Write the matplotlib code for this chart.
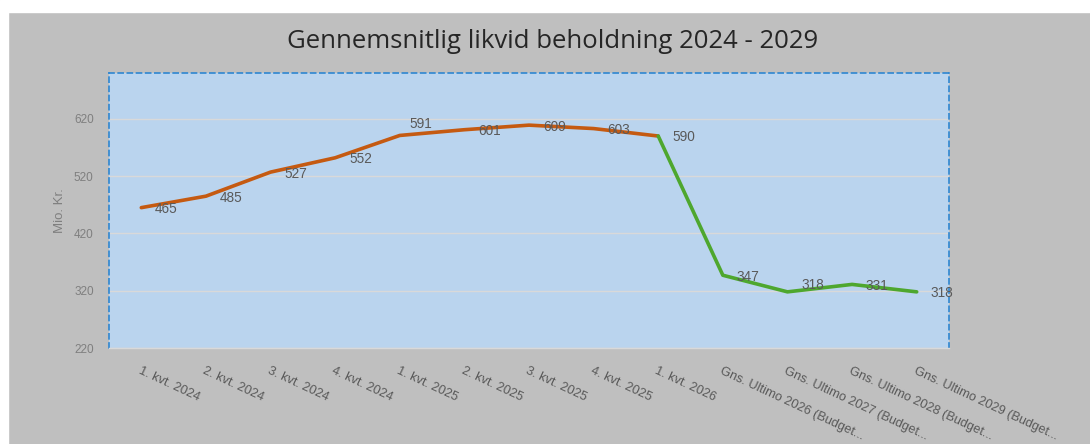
import matplotlib
matplotlib.use("Agg")
import matplotlib.pyplot as plt
from matplotlib.patches import Rectangle

# data
categories = ["1. kvt. 2024", "2. kvt. 2024", "3. kvt. 2024", "4. kvt. 2024",
              "1. kvt. 2025", "2. kvt. 2025", "3. kvt. 2025", "4. kvt. 2025",
              "1. kvt. 2026",
              "Gns. Ultimo 2026 (Budget...", "Gns. Ultimo 2027 (Budget...",
              "Gns. Ultimo 2028 (Budget...", "Gns. Ultimo 2029 (Budget..."]
values = [465, 485, 527, 552, 591, 601, 609, 603, 590, 347, 318, 331, 318]
split = 8  # last quarterly point, green budget line starts here
yticks = [220, 320, 420, 520, 620]

W, H = 1090, 444
fig = plt.figure(figsize=(W / 100, H / 100), dpi=100, facecolor="#bfbfbf")
# thin white strips at the left and top edges
fig.patches.append(Rectangle((0, 0), 8 / W, 1, transform=fig.transFigure,
                             color="white", zorder=-5))
fig.patches.append(Rectangle((0, 1 - 12 / H), 1, 12 / H, transform=fig.transFigure,
                             color="white", zorder=-5))

ax = fig.add_axes([109 / W, 1 - 348 / H, (949 - 109) / W, (348 - 73) / H])
ax.set_facecolor("#bad4ee")

x = list(range(len(values)))
ax.plot(x[:split + 1], values[:split + 1], color="#c55a11", lw=2.6,
        solid_capstyle="round", zorder=3)
ax.plot(x[split:], values[split:], color="#4ea72e", lw=2.6,
        solid_capstyle="round", zorder=3)

for i, v in enumerate(values):
    dx, dy = 10, -1
    if i == 4:
        dx, dy = 7, 8
    elif i == 10:
        dy = 5
    ax.annotate(str(v), (i, v), xytext=(dx, dy), textcoords="offset points",
                ha="left", va="center", fontsize=9.8, color="#595959",
                family="Liberation Sans", zorder=4)

ax.set_xlim(-0.5, len(values) - 0.5)
ax.set_ylim(220, 700)
ax.set_yticks(yticks)
ax.set_yticklabels([str(t) for t in yticks], fontsize=8.5, color="#7f7f7f",
                   family="Liberation Sans")
ax.grid(axis="y", color="#d9d9d9", lw=1)
ax.set_axisbelow(True)

ax.set_xticks(x)
ax.set_xticklabels(categories, rotation=-25, ha="left", va="top",
                   rotation_mode="anchor", fontsize=9.2, color="#595959",
                   family="Liberation Sans")
ax.tick_params(axis="both", length=0)
ax.tick_params(axis="x", pad=12)
ax.tick_params(axis="y", pad=11)

for side in ["left", "top", "right"]:
    ax.spines[side].set_color("#2e86d0")
    ax.spines[side].set_linestyle((0, (3, 2.5)))
    ax.spines[side].set_linewidth(1.2)
ax.spines["bottom"].set_color("#d9d9d9")
ax.spines["bottom"].set_linewidth(1)

ax.set_ylabel("Mio. Kr.", fontsize=9.5, color="#7f7f7f", family="Liberation Sans",
              labelpad=6)

fig.text(553 / W, 1 - 41 / H, "Gennemsnitlig likvid beholdning 2024 - 2029",
         ha="center", va="center", fontsize=18.5, color="#262626", family="Open Sans")

fig.savefig("out.png", dpi=100, facecolor=fig.get_facecolor())
